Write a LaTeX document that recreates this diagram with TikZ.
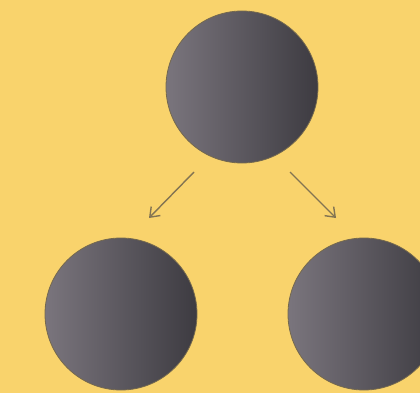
\documentclass[tikz,border=0pt]{standalone}
\usetikzlibrary{arrows.meta}
\definecolor{bgyellow}{HTML}{F9D36C}
\definecolor{balllight}{HTML}{7A757D}
\definecolor{balldark}{HTML}{3D3B41}
\definecolor{arrowgrey}{HTML}{837452}
\begin{document}
\begin{tikzpicture}[x=1pt,y=-1pt]
\tikzset{
  ball/.style={circle,inner sep=0pt,minimum size=152pt,left color=balllight,right color=balldark,draw=balldark!70!bgyellow,line width=0.8pt},
  split/.style={-{Straight Barb[length=3mm,width=4.5mm]},draw=arrowgrey,line width=1.4pt}
}
\useasboundingbox (0,0) rectangle (420,393);
\clip (0,0) rectangle (420,393);
\fill[bgyellow] (0,0) rectangle (420,393);
\node[ball] (top) at (242,87) {};
\node[ball] (left) at (121,314) {};
\node[ball] (right) at (364,314) {};
\coordinate (l_from) at (194,172);
\coordinate (l_to) at (149,218);
\coordinate (r_from) at (290,172);
\coordinate (r_to) at (336,218);
\draw[split] (l_from) -- (l_to);
\draw[split] (r_from) -- (r_to);
\end{tikzpicture}
\end{document}
